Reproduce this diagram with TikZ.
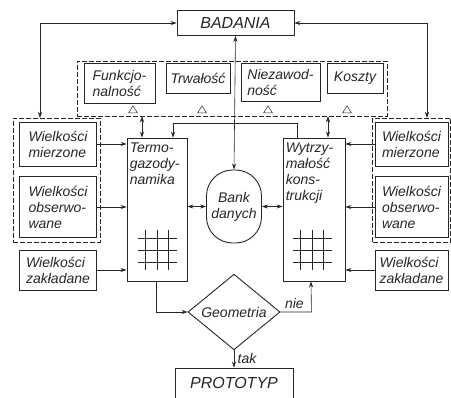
\documentclass[tikz,border=0pt]{standalone}
\usepackage{fontspec}
\setmainfont{Liberation Sans}
\usetikzlibrary{arrows.meta,shapes.geometric}
\definecolor{ink}{gray}{0.15}

\begin{document}
\begin{tikzpicture}[x=1pt,y=-1pt,
  every node/.style={font=\itshape\fontsize{14}{16}\selectfont, text=ink},
  box/.style={draw=ink, line width=0.9pt, inner sep=2pt, align=left},
  grp/.style={draw=ink, line width=0.5pt, dash pattern=on 5pt off 2pt},
  link/.style={draw=ink, line width=0.6pt, -{Stealth[length=6pt,width=4pt]}},
  twoway/.style={link, {Stealth[length=6pt,width=4pt]}-{Stealth[length=6pt,width=4pt]}}]
  \useasboundingbox (0,0) rectangle (451,398);

  % Badania
  \node[box, minimum width=117pt, minimum height=25pt, font=\itshape\fontsize{16}{18}\selectfont]
    (badania) at (235.5,23) {BADANIA};

  % Cechy
  \node[grp, minimum width=310pt, minimum height=55pt] (cechy) at (232,88.5) {};
  \node[box, minimum width=71pt, minimum height=40pt] (funkc) at (119.5,83) {Funkcjo-\\nalność};
  \node[box, minimum width=64pt, minimum height=30pt] (trwal) at (198,78) {Trwałość};
  \node[box, minimum width=79pt, minimum height=38pt] (niezaw) at (280.5,82) {Niezawod-\\ność};
  \node[box, minimum width=56pt, minimum height=30pt] (koszty) at (355,78) {Koszty};
  \foreach \x in {133,202,268,347}
    \draw[ink, line width=0.5pt] (\x-4.5,113) -- (\x,106) -- (\x+4.5,113) -- cycle;

  % Obliczenia
  \node[box, minimum width=60pt, minimum height=143pt] (termo) at (157,209.5) {};
  \node[anchor=north west, align=left, inner sep=2pt] (termotxt)
    at ([shift={(1pt,-3pt)}]termo.north west) {Termo-\\gazody-\\namika};
  \node[box, minimum width=62pt, minimum height=143pt] (wytrz) at (314,209.5) {};
  \node[anchor=north west, align=left, inner sep=2pt] (wytrztxt)
    at ([shift={(1pt,-3pt)}]wytrz.north west) {Wytrzy-\\małość\\kons-\\trukcji};
  \foreach \b/\o in {termo/0,wytrz/-2} {
    \foreach \d in {-12,0,11}
      \draw[ink, line width=0.5pt] ([shift={(\d pt+\o pt,-20.5pt)}]\b.center) -- ++(0,40);
    \foreach \d in {-28.5,-40.5,-52.5}
      \draw[ink, line width=0.5pt] ([shift={(-19pt+\o pt,\d pt)}]\b.center) -- ++(39,0);
  }
  \node[draw=ink, line width=0.9pt, rounded corners=26pt, align=center,
    minimum width=55pt, minimum height=73pt] (bank) at (234,206.5) {Bank\\danych};

  % Wielkosci
  \node[grp, minimum width=87pt, minimum height=124pt] (lewa) at (56.5,180) {};
  \node[box, minimum width=77pt, minimum height=44pt] (lmierz) at (58,144) {Wielkości\\mierzone};
  \node[box, minimum width=77pt, minimum height=61pt] (lobs) at (58,207) {Wielkości\\obserwo-\\wane};
  \node[box, minimum width=77pt, minimum height=40pt] (lzakl) at (58,270) {Wielkości\\zakładane};
  \node[grp, minimum width=78pt, minimum height=124pt] (prawa) at (411.5,180) {};
  \node[box, minimum width=73pt, minimum height=44pt] (pmierz) at (411.5,144) {Wielkości\\mierzone};
  \node[box, minimum width=73pt, minimum height=61pt] (pobs) at (411.5,207) {Wielkości\\obserwo-\\wane};
  \node[box, minimum width=73pt, minimum height=40pt] (pzakl) at (411.5,270) {Wielkości\\zakładane};

  % Decyzja
  \node[draw=ink, line width=0.9pt, shape=diamond, inner sep=0pt,
    minimum width=92pt, minimum height=60pt] (geom) at (234,312) {Geometria};
  \node[box, minimum width=118pt, minimum height=30pt, font=\itshape\fontsize{16}{18}\selectfont]
    (proto) at (234,383) {PROTOTYP};

  % Polaczenia
  \coordinate (lin) at (40,118);
  \coordinate (rin) at (427,118);
  \draw[twoway] (badania.west) -| (lin);
  \draw[twoway] (badania.east) -| (rin);
  \draw[twoway] (badania.south) -- (bank.north);
  \draw[twoway] ([xshift=-15pt]termo.north) -- ([xshift=-15pt]termo.north |- cechy.south);
  \draw[twoway] ([xshift=14pt]wytrz.north) -- ([xshift=14pt]wytrz.north |- cechy.south);
  \draw[link] ([xshift=-17pt]wytrz.north) -- ++(0,-14) -| ([xshift=16pt]termo.north);
  \draw[twoway] (termo.east |- bank.west) -- (bank.west);
  \draw[twoway] (wytrz.west |- bank.east) -- (bank.east);
  \draw[link] (lmierz.east) -- (lmierz.east -| termo.west);
  \draw[link] (lobs.east) -- (lobs.east -| termo.west);
  \draw[link] (lzakl.east) -- (lzakl.east -| termo.west);
  \draw[link] (pmierz.west) -- (pmierz.west -| wytrz.east);
  \draw[link] (pobs.west) -- (pobs.west -| wytrz.east);
  \draw[link] (pzakl.west) -- (pzakl.west -| wytrz.east);
  \draw[link] ([xshift=-1pt]termo.south) |- (geom.west);
  \draw[link] (geom.east) -- node[above, pos=0.45] {nie} ++(31,0) -- ([xshift=-3pt]wytrz.south);
  \draw[link] (geom.south) -- node[right, pos=0.45] {tak} (proto.north);
\end{tikzpicture}
\end{document}
